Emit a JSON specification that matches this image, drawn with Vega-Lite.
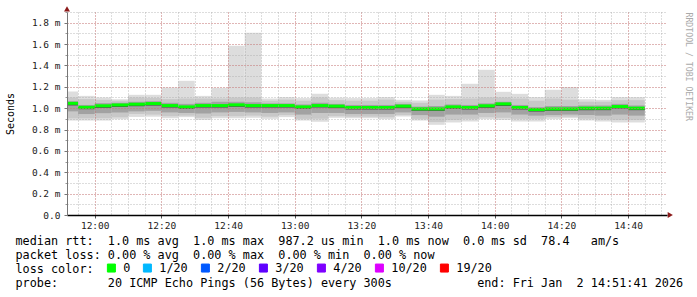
{
  "$schema": "https://vega.github.io/schema/vega-lite/v6.json",
  "width": 600,
  "height": 203,
  "autosize": {"type": "none"},
  "padding": {"left": 67, "top": 12, "right": 30, "bottom": 82},
  "background": "white",
  "config": {"view": {"stroke": null}, "font": "DejaVu Sans Mono"},
  "title": {
    "text": [
      "median\u00a0rtt:\u00a0\u00a01.0\u00a0ms\u00a0avg\u00a0\u00a01.0\u00a0ms\u00a0max\u00a0\u00a0987.2\u00a0us\u00a0min\u00a0\u00a01.0\u00a0ms\u00a0now\u00a0\u00a00.0\u00a0ms\u00a0sd\u00a0\u00a078.4\u00a0\u00a0\u00a0am/s",
      "packet\u00a0loss:\u00a00.00\u00a0%\u00a0avg\u00a0\u00a00.00\u00a0%\u00a0max\u00a0\u00a00.00\u00a0%\u00a0min\u00a0\u00a00.00\u00a0%\u00a0now",
      "loss\u00a0color:",
      "probe:\u00a0\u00a0\u00a0\u00a0\u00a0\u00a0\u00a020\u00a0ICMP\u00a0Echo\u00a0Pings\u00a0(56\u00a0Bytes)\u00a0every\u00a0300s\u00a0\u00a0\u00a0\u00a0\u00a0\u00a0\u00a0\u00a0\u00a0\u00a0\u00a0\u00a0end:\u00a0Fri\u00a0Jan\u00a0\u00a02\u00a014:51:41\u00a02026"
    ],
    "orient": "bottom",
    "anchor": "start",
    "frame": "group",
    "dx": -51.5,
    "offset": -39,
    "font": "DejaVu Sans Mono",
    "fontSize": 11.8,
    "fontWeight": "normal",
    "color": "#000000",
    "lineHeight": 14
  },
  "data": {
    "values": [
      {"t0": "2026-01-02T11:50:00", "t1": "2026-01-02T11:55:00", "mn": 0.884, "l2": 0.905, "l3": 0.97, "l4": 1.025, "md": 1.045, "h3": 1.065, "h2": 1.1, "mx": 1.156, "loss": "0"},
      {"t0": "2026-01-02T11:55:00", "t1": "2026-01-02T12:00:00", "mn": 0.884, "l2": 0.905, "l3": 0.945, "l4": 0.99, "md": 1.008, "h3": 1.03, "h2": 1.085, "mx": 1.115, "loss": "0"},
      {"t0": "2026-01-02T12:00:00", "t1": "2026-01-02T12:05:00", "mn": 0.884, "l2": 0.906, "l3": 0.953, "l4": 1.002, "md": 1.022, "h3": 1.047, "h2": 1.078, "mx": 1.1, "loss": "0"},
      {"t0": "2026-01-02T12:05:00", "t1": "2026-01-02T12:10:00", "mn": 0.897, "l2": 0.915, "l3": 0.96, "l4": 1.01, "md": 1.03, "h3": 1.05, "h2": 1.07, "mx": 1.084, "loss": "0"},
      {"t0": "2026-01-02T12:10:00", "t1": "2026-01-02T12:15:00", "mn": 0.918, "l2": 0.945, "l3": 0.97, "l4": 1.018, "md": 1.037, "h3": 1.06, "h2": 1.1, "mx": 1.125, "loss": "0"},
      {"t0": "2026-01-02T12:15:00", "t1": "2026-01-02T12:20:00", "mn": 0.92, "l2": 0.94, "l3": 0.975, "l4": 1.024, "md": 1.043, "h3": 1.065, "h2": 1.095, "mx": 1.125, "loss": "0"},
      {"t0": "2026-01-02T12:20:00", "t1": "2026-01-02T12:25:00", "mn": 0.906, "l2": 0.925, "l3": 0.96, "l4": 1.005, "md": 1.024, "h3": 1.05, "h2": 1.085, "mx": 1.193, "loss": "0"},
      {"t0": "2026-01-02T12:25:00", "t1": "2026-01-02T12:30:00", "mn": 0.916, "l2": 0.93, "l3": 0.955, "l4": 0.993, "md": 1.012, "h3": 1.04, "h2": 1.09, "mx": 1.256, "loss": "0"},
      {"t0": "2026-01-02T12:30:00", "t1": "2026-01-02T12:35:00", "mn": 0.89, "l2": 0.91, "l3": 0.95, "l4": 1.005, "md": 1.024, "h3": 1.05, "h2": 1.09, "mx": 1.115, "loss": "0"},
      {"t0": "2026-01-02T12:35:00", "t1": "2026-01-02T12:40:00", "mn": 0.906, "l2": 0.925, "l3": 0.96, "l4": 1.005, "md": 1.024, "h3": 1.06, "h2": 1.09, "mx": 1.19, "loss": "0"},
      {"t0": "2026-01-02T12:40:00", "t1": "2026-01-02T12:45:00", "mn": 0.906, "l2": 0.925, "l3": 0.965, "l4": 1.012, "md": 1.031, "h3": 1.06, "h2": 1.1, "mx": 1.585, "loss": "0"},
      {"t0": "2026-01-02T12:45:00", "t1": "2026-01-02T12:50:00", "mn": 0.91, "l2": 0.93, "l3": 0.96, "l4": 1.005, "md": 1.024, "h3": 1.055, "h2": 1.1, "mx": 1.706, "loss": "0"},
      {"t0": "2026-01-02T12:50:00", "t1": "2026-01-02T12:55:00", "mn": 0.9, "l2": 0.92, "l3": 0.955, "l4": 1.005, "md": 1.024, "h3": 1.045, "h2": 1.07, "mx": 1.09, "loss": "0"},
      {"t0": "2026-01-02T12:55:00", "t1": "2026-01-02T13:00:00", "mn": 0.916, "l2": 0.935, "l3": 0.96, "l4": 1.005, "md": 1.024, "h3": 1.045, "h2": 1.08, "mx": 1.103, "loss": "0"},
      {"t0": "2026-01-02T13:00:00", "t1": "2026-01-02T13:05:00", "mn": 0.884, "l2": 0.9, "l3": 0.94, "l4": 0.993, "md": 1.012, "h3": 1.035, "h2": 1.07, "mx": 1.094, "loss": "0"},
      {"t0": "2026-01-02T13:05:00", "t1": "2026-01-02T13:10:00", "mn": 0.872, "l2": 0.9, "l3": 0.955, "l4": 1.005, "md": 1.024, "h3": 1.05, "h2": 1.1, "mx": 1.134, "loss": "0"},
      {"t0": "2026-01-02T13:10:00", "t1": "2026-01-02T13:15:00", "mn": 0.91, "l2": 0.925, "l3": 0.955, "l4": 1.0, "md": 1.019, "h3": 1.04, "h2": 1.075, "mx": 1.098, "loss": "0"},
      {"t0": "2026-01-02T13:15:00", "t1": "2026-01-02T13:20:00", "mn": 0.906, "l2": 0.92, "l3": 0.945, "l4": 0.987, "md": 1.006, "h3": 1.03, "h2": 1.07, "mx": 1.094, "loss": "0"},
      {"t0": "2026-01-02T13:20:00", "t1": "2026-01-02T13:25:00", "mn": 0.906, "l2": 0.92, "l3": 0.945, "l4": 0.987, "md": 1.006, "h3": 1.03, "h2": 1.07, "mx": 1.094, "loss": "0"},
      {"t0": "2026-01-02T13:25:00", "t1": "2026-01-02T13:30:00", "mn": 0.897, "l2": 0.915, "l3": 0.945, "l4": 0.987, "md": 1.006, "h3": 1.03, "h2": 1.08, "mx": 1.103, "loss": "0"},
      {"t0": "2026-01-02T13:30:00", "t1": "2026-01-02T13:35:00", "mn": 0.922, "l2": 0.935, "l3": 0.96, "l4": 1.0, "md": 1.019, "h3": 1.04, "h2": 1.06, "mx": 1.078, "loss": "0"},
      {"t0": "2026-01-02T13:35:00", "t1": "2026-01-02T13:40:00", "mn": 0.884, "l2": 0.9, "l3": 0.935, "l4": 0.975, "md": 0.993, "h3": 1.015, "h2": 1.05, "mx": 1.072, "loss": "0"},
      {"t0": "2026-01-02T13:40:00", "t1": "2026-01-02T13:45:00", "mn": 0.844, "l2": 0.87, "l3": 0.92, "l4": 0.974, "md": 0.993, "h3": 1.02, "h2": 1.08, "mx": 1.125, "loss": "0"},
      {"t0": "2026-01-02T13:45:00", "t1": "2026-01-02T13:50:00", "mn": 0.866, "l2": 0.89, "l3": 0.94, "l4": 0.993, "md": 1.012, "h3": 1.035, "h2": 1.085, "mx": 1.115, "loss": "0"},
      {"t0": "2026-01-02T13:50:00", "t1": "2026-01-02T13:55:00", "mn": 0.875, "l2": 0.9, "l3": 0.94, "l4": 0.987, "md": 1.006, "h3": 1.03, "h2": 1.09, "mx": 1.228, "loss": "0"},
      {"t0": "2026-01-02T13:55:00", "t1": "2026-01-02T14:00:00", "mn": 0.897, "l2": 0.915, "l3": 0.955, "l4": 1.003, "md": 1.022, "h3": 1.045, "h2": 1.1, "mx": 1.359, "loss": "0"},
      {"t0": "2026-01-02T14:00:00", "t1": "2026-01-02T14:05:00", "mn": 0.89, "l2": 0.91, "l3": 0.96, "l4": 1.02, "md": 1.04, "h3": 1.06, "h2": 1.1, "mx": 1.153, "loss": "0"},
      {"t0": "2026-01-02T14:05:00", "t1": "2026-01-02T14:10:00", "mn": 0.875, "l2": 0.9, "l3": 0.94, "l4": 0.987, "md": 1.006, "h3": 1.03, "h2": 1.09, "mx": 1.134, "loss": "0"},
      {"t0": "2026-01-02T14:10:00", "t1": "2026-01-02T14:15:00", "mn": 0.875, "l2": 0.9, "l3": 0.93, "l4": 0.968, "md": 0.987, "h3": 1.01, "h2": 1.07, "mx": 1.103, "loss": "0"},
      {"t0": "2026-01-02T14:15:00", "t1": "2026-01-02T14:20:00", "mn": 0.897, "l2": 0.915, "l3": 0.935, "l4": 0.974, "md": 0.993, "h3": 1.02, "h2": 1.09, "mx": 1.172, "loss": "0"},
      {"t0": "2026-01-02T14:20:00", "t1": "2026-01-02T14:25:00", "mn": 0.906, "l2": 0.92, "l3": 0.94, "l4": 0.974, "md": 0.993, "h3": 1.02, "h2": 1.08, "mx": 1.197, "loss": "0"},
      {"t0": "2026-01-02T14:25:00", "t1": "2026-01-02T14:30:00", "mn": 0.884, "l2": 0.9, "l3": 0.935, "l4": 0.981, "md": 1.0, "h3": 1.025, "h2": 1.06, "mx": 1.084, "loss": "0"},
      {"t0": "2026-01-02T14:30:00", "t1": "2026-01-02T14:35:00", "mn": 0.875, "l2": 0.895, "l3": 0.93, "l4": 0.981, "md": 1.0, "h3": 1.025, "h2": 1.06, "mx": 1.078, "loss": "0"},
      {"t0": "2026-01-02T14:35:00", "t1": "2026-01-02T14:40:00", "mn": 0.866, "l2": 0.89, "l3": 0.94, "l4": 0.996, "md": 1.015, "h3": 1.04, "h2": 1.075, "mx": 1.103, "loss": "0"},
      {"t0": "2026-01-02T14:40:00", "t1": "2026-01-02T14:45:00", "mn": 0.866, "l2": 0.89, "l3": 0.93, "l4": 0.981, "md": 1.0, "h3": 1.025, "h2": 1.075, "mx": 1.103, "loss": "0"}
    ]
  },
  "resolve": {"axis": {"x": "independent", "y": "independent"}},
  "layer": [
    {
      "mark": {"type": "rect", "fill": "#dddddd", "clip": true},
      "encoding": {
        "x": {
          "field": "t0", "type": "temporal",
          "scale": {"domain": [
            {"year": 2026, "month": 1, "date": 2, "hours": 11, "minutes": 51, "seconds": 41},
            {"year": 2026, "month": 1, "date": 2, "hours": 14, "minutes": 51, "seconds": 41}
          ]},
          "axis": {
            "orient": "bottom",
            "values": [
              {"year": 2026, "month": 1, "date": 2, "hours": 11, "minutes": 55},
              {"year": 2026, "month": 1, "date": 2, "hours": 12, "minutes": 0},
              {"year": 2026, "month": 1, "date": 2, "hours": 12, "minutes": 5},
              {"year": 2026, "month": 1, "date": 2, "hours": 12, "minutes": 10},
              {"year": 2026, "month": 1, "date": 2, "hours": 12, "minutes": 15},
              {"year": 2026, "month": 1, "date": 2, "hours": 12, "minutes": 20},
              {"year": 2026, "month": 1, "date": 2, "hours": 12, "minutes": 25},
              {"year": 2026, "month": 1, "date": 2, "hours": 12, "minutes": 30},
              {"year": 2026, "month": 1, "date": 2, "hours": 12, "minutes": 35},
              {"year": 2026, "month": 1, "date": 2, "hours": 12, "minutes": 40},
              {"year": 2026, "month": 1, "date": 2, "hours": 12, "minutes": 45},
              {"year": 2026, "month": 1, "date": 2, "hours": 12, "minutes": 50},
              {"year": 2026, "month": 1, "date": 2, "hours": 12, "minutes": 55},
              {"year": 2026, "month": 1, "date": 2, "hours": 13, "minutes": 0},
              {"year": 2026, "month": 1, "date": 2, "hours": 13, "minutes": 5},
              {"year": 2026, "month": 1, "date": 2, "hours": 13, "minutes": 10},
              {"year": 2026, "month": 1, "date": 2, "hours": 13, "minutes": 15},
              {"year": 2026, "month": 1, "date": 2, "hours": 13, "minutes": 20},
              {"year": 2026, "month": 1, "date": 2, "hours": 13, "minutes": 25},
              {"year": 2026, "month": 1, "date": 2, "hours": 13, "minutes": 30},
              {"year": 2026, "month": 1, "date": 2, "hours": 13, "minutes": 35},
              {"year": 2026, "month": 1, "date": 2, "hours": 13, "minutes": 40},
              {"year": 2026, "month": 1, "date": 2, "hours": 13, "minutes": 45},
              {"year": 2026, "month": 1, "date": 2, "hours": 13, "minutes": 50},
              {"year": 2026, "month": 1, "date": 2, "hours": 13, "minutes": 55},
              {"year": 2026, "month": 1, "date": 2, "hours": 14, "minutes": 0},
              {"year": 2026, "month": 1, "date": 2, "hours": 14, "minutes": 5},
              {"year": 2026, "month": 1, "date": 2, "hours": 14, "minutes": 10},
              {"year": 2026, "month": 1, "date": 2, "hours": 14, "minutes": 15},
              {"year": 2026, "month": 1, "date": 2, "hours": 14, "minutes": 20},
              {"year": 2026, "month": 1, "date": 2, "hours": 14, "minutes": 25},
              {"year": 2026, "month": 1, "date": 2, "hours": 14, "minutes": 30},
              {"year": 2026, "month": 1, "date": 2, "hours": 14, "minutes": 35},
              {"year": 2026, "month": 1, "date": 2, "hours": 14, "minutes": 40},
              {"year": 2026, "month": 1, "date": 2, "hours": 14, "minutes": 45},
              {"year": 2026, "month": 1, "date": 2, "hours": 14, "minutes": 50}
            ],
            "grid": true, "gridColor": "#aaaaaa", "gridDash": [1, 2], "gridOpacity": 0.8,
            "labels": false, "ticks": false, "domain": false, "title": null, "zindex": 1
          }
        },
        "x2": {"field": "t1"},
        "y": {
          "field": "mn", "type": "quantitative",
          "scale": {"domain": [0, 1.9], "nice": false, "zero": false},
          "axis": {
            "orient": "left",
            "values": [0, 0.1, 0.2, 0.3, 0.4, 0.5, 0.6, 0.7, 0.8, 0.9, 1.0, 1.1, 1.2, 1.3, 1.4, 1.5, 1.6, 1.7, 1.8, 1.9],
            "grid": true, "gridColor": "#aaaaaa", "gridDash": [1, 2], "gridOpacity": 0.8,
            "labels": false, "ticks": true, "tickSize": 2, "tickColor": "#999999",
            "domain": false, "title": null, "zindex": 1
          }
        },
        "y2": {"field": "mx"}
      }
    },
    {
      "mark": {"type": "rect", "fill": "#c8c8c8", "clip": true},
      "encoding": {
        "x": {
          "field": "t0", "type": "temporal",
          "axis": {
            "orient": "bottom",
            "values": [
              {"year": 2026, "month": 1, "date": 2, "hours": 12, "minutes": 0},
              {"year": 2026, "month": 1, "date": 2, "hours": 12, "minutes": 20},
              {"year": 2026, "month": 1, "date": 2, "hours": 12, "minutes": 40},
              {"year": 2026, "month": 1, "date": 2, "hours": 13, "minutes": 0},
              {"year": 2026, "month": 1, "date": 2, "hours": 13, "minutes": 20},
              {"year": 2026, "month": 1, "date": 2, "hours": 13, "minutes": 40},
              {"year": 2026, "month": 1, "date": 2, "hours": 14, "minutes": 0},
              {"year": 2026, "month": 1, "date": 2, "hours": 14, "minutes": 20},
              {"year": 2026, "month": 1, "date": 2, "hours": 14, "minutes": 40}
            ],
            "format": "%H:%M",
            "grid": true, "gridColor": "#ee3333", "gridOpacity": 0.45, "gridDash": [1, 2],
            "domain": true, "domainColor": "#000000", "domainWidth": 1.5,
            "ticks": true, "tickSize": 3, "tickColor": "#555555",
            "labelFont": "DejaVu Sans Mono", "labelFontSize": 9.5, "labelColor": "#222222",
            "labelPadding": 2, "labelFlush": false, "labelOverlap": false, "title": null, "zindex": 1
          }
        },
        "x2": {"field": "t1"},
        "y": {
          "field": "l2", "type": "quantitative",
          "axis": {
            "orient": "left",
            "values": [0, 0.2, 0.4, 0.6, 0.8, 1.0, 1.2, 1.4, 1.6, 1.8],
            "labelExpr": "datum.value == 0 ? '0.0' : format(datum.value, '.1f') + ' m'",
            "grid": true, "gridColor": "#ee3333", "gridOpacity": 0.45, "gridDash": [1, 2],
            "domain": true, "domainColor": "#777777", "domainWidth": 1,
            "ticks": true, "tickSize": 3, "tickColor": "#777777",
            "labelFont": "DejaVu Sans Mono", "labelFontSize": 9.5, "labelColor": "#222222",
            "labelPadding": 4, "labelFlush": false, "labelOverlap": false,
            "title": "Seconds", "titleFont": "DejaVu Sans Mono", "titleFontSize": 10,
            "titleFontWeight": "normal", "titleColor": "#000000", "titlePadding": 16, "zindex": 1
          }
        },
        "y2": {"field": "h2"}
      }
    },
    {
      "mark": {"type": "rect", "fill": "#a2a2a2", "clip": true},
      "encoding": {
        "x": {"field": "t0", "type": "temporal", "axis": null},
        "x2": {"field": "t1"},
        "y": {
          "field": "l3", "type": "quantitative",
          "axis": {
            "orient": "right", "labels": false, "ticks": false, "domain": false, "grid": false,
            "title": "RRDTOOL / TOBI OETIKER", "titleFont": "DejaVu Sans Mono", "titleFontSize": 8.2,
            "titleFontWeight": "normal", "titleColor": "#aaaaaa", "titleAnchor": "end",
            "titleAlign": "left", "titlePadding": 16
          }
        },
        "y2": {"field": "h3"}
      }
    },
    {
      "mark": {"type": "rect", "fill": "#505050", "clip": true},
      "encoding": {
        "x": {"field": "t0", "type": "temporal", "axis": null},
        "x2": {"field": "t1"},
        "y": {"field": "l4", "type": "quantitative", "axis": null},
        "y2": {"field": "md"}
      }
    },
    {
      "mark": {"type": "rule", "strokeWidth": 3, "clip": true},
      "encoding": {
        "x": {"field": "t0", "type": "temporal", "axis": null},
        "x2": {"field": "t1"},
        "y": {"field": "md", "type": "quantitative", "axis": null},
        "color": {
          "field": "loss", "type": "nominal",
          "scale": {
            "domain": ["0", "1/20", "2/20", "3/20", "4/20", "10/20", "19/20"],
            "range": ["#00ff00", "#00b8ff", "#0059ff", "#5e00ff", "#7e00ff", "#dd00ff", "#ff0000"]
          },
          "legend": {
            "orient": "none", "legendX": 38.5, "legendY": 250,
            "direction": "horizontal", "title": null,
            "labelFont": "DejaVu Sans Mono", "labelFontSize": 11.8, "labelColor": "#000000",
            "labelOffset": 6, "columnPadding": 10,
            "symbolType": "square", "symbolSize": 64,
            "encode": {"symbols": {"update": {"fill": {"scale": "color", "field": "value"}, "stroke": {"value": "#000000"}, "strokeWidth": {"value": 1}, "opacity": {"value": 1}}}}
          }
        }
      }
    },
    {
      "data": {"values": [{"end": "top"}]},
      "mark": {"type": "point", "shape": "triangle-up", "filled": true, "size": 36, "color": "#8b1a1a", "opacity": 1},
      "encoding": {
        "x": {"datum": {"year": 2026, "month": 1, "date": 2, "hours": 11, "minutes": 51, "seconds": 41}, "type": "temporal", "axis": null},
        "y": {"datum": 1.93, "type": "quantitative", "axis": null}
      }
    },
    {
      "data": {"values": [{"end": "right"}]},
      "mark": {"type": "point", "shape": "triangle-right", "filled": true, "size": 36, "color": "#8b1a1a", "opacity": 1},
      "encoding": {
        "x": {"datum": {"year": 2026, "month": 1, "date": 2, "hours": 14, "minutes": 52, "seconds": 40}, "type": "temporal", "axis": null},
        "y": {"datum": 0, "type": "quantitative", "axis": null}
      }
    }
  ]
}
